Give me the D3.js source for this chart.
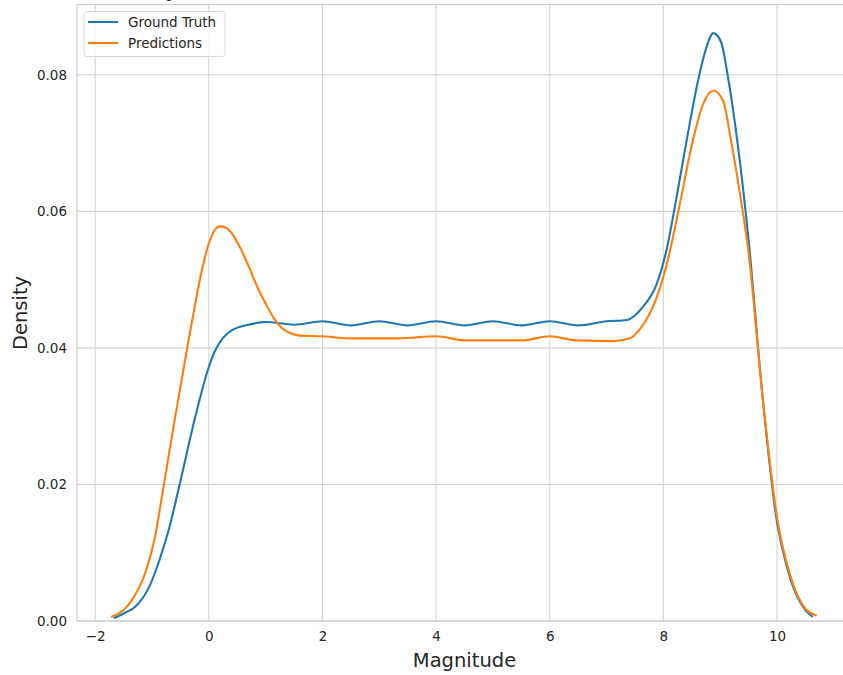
<!DOCTYPE html>
<html>
<head>
<meta charset="utf-8">
<script src="https://cdn.jsdelivr.net/npm/d3@7"></script>
<style>
  body { margin: 0; background: #fff; }
  svg { display: block; font-family: "DejaVu Sans", sans-serif; }
</style>
</head>
<body>
<svg id="chart" width="843" height="675"></svg>
<script>
// series (x = magnitude, y = density)
const gtX = [-1.67, -1.5, -1.28, -1.05, -0.87, -0.7, -0.5, -0.25, 0, 0.1, 0.2, 0.41, 0.7, 1.0, 1.5, 2.0, 2.5, 3.0, 3.5, 4.0, 4.5, 5.0, 5.5, 6.0, 6.5, 7.0, 7.36, 7.64, 7.88, 8.06, 8.22, 8.41, 8.62, 8.75, 8.88, 9.02, 9.12, 9.3, 9.5, 9.75, 10.0, 10.1, 10.25, 10.5, 10.63];
const gtY = [0.0004, 0.0011, 0.0022, 0.005, 0.0089, 0.0135, 0.0205, 0.0295, 0.0372, 0.0394, 0.0409, 0.0426, 0.0434, 0.0438, 0.0434, 0.0439, 0.0433, 0.0439, 0.0433, 0.0439, 0.0433, 0.0439, 0.0433, 0.0439, 0.0433, 0.0439, 0.0441, 0.046, 0.0493, 0.0545, 0.0615, 0.0704, 0.0795, 0.0838, 0.0861, 0.0847, 0.0805, 0.0704, 0.0558, 0.0325, 0.0145, 0.0104, 0.0058, 0.0016, 0.0006];

const predX = [-1.72, -1.5, -1.35, -1.1, -0.95, -0.8, -0.6, -0.38, -0.25, -0.12, 0, 0.1, 0.2, 0.3, 0.42, 0.55, 0.71, 0.85, 1.0, 1.15, 1.3, 1.45, 1.6, 2.0, 2.46, 2.93, 3.35, 4.0, 4.53, 5.0, 5.5, 6.0, 6.47, 7.12, 7.41, 7.59, 7.76, 8.0, 8.11, 8.3, 8.52, 8.7, 8.88, 9.05, 9.19, 9.35, 9.5, 9.75, 10.0, 10.25, 10.5, 10.7];
const predY = [0.0006, 0.0016, 0.0031, 0.0075, 0.0122, 0.0195, 0.0295, 0.040, 0.046, 0.0515, 0.0553, 0.0572, 0.0578, 0.0576, 0.0566, 0.0547, 0.0518, 0.049, 0.0465, 0.0443, 0.0428, 0.0421, 0.0418, 0.0417, 0.0414, 0.0414, 0.0414, 0.0417, 0.0411, 0.0411, 0.0411, 0.0417, 0.0411, 0.0410, 0.0414, 0.0428, 0.045, 0.0504, 0.054, 0.0615, 0.0704, 0.0757, 0.0777, 0.0762, 0.0704, 0.0625, 0.054, 0.0325, 0.0152, 0.0062, 0.0018, 0.0008];

const xTicks = [-2, 0, 2, 4, 6, 8, 10];
const yTicks = [0, 0.02, 0.04, 0.06, 0.08];
const seriesNames = ["Ground Truth", "Predictions"];
const colors = ["#1f77b4", "#ff7f0e"];

const svg = d3.select("#chart");
const plotLeft = 77, plotRight = 852, plotTop = 4.5, plotBottom = 621;

const x = d3.scaleLinear().domain([-2.32, 11.32]).range([plotLeft, plotRight]);
const y = d3.scaleLinear().domain([0, 0.0903]).range([plotBottom, plotTop]);

// title, mostly above the frame (only its descender shows)
svg.append("text")
  .attr("x", 177).attr("y", -3)
  .attr("text-anchor", "end")
  .attr("font-size", 18).attr("font-weight", "bold")
  .attr("fill", "#262626")
  .text("Density");

// grid
svg.append("g").selectAll("line").data(xTicks).join("line")
  .attr("x1", d => x(d)).attr("x2", d => x(d))
  .attr("y1", plotTop).attr("y2", plotBottom)
  .attr("stroke", "#d5d5d5").attr("stroke-width", 1.1);
svg.append("g").selectAll("line").data(yTicks).join("line")
  .attr("x1", plotLeft).attr("x2", plotRight)
  .attr("y1", d => y(d)).attr("y2", d => y(d))
  .attr("stroke", "#d5d5d5").attr("stroke-width", 1.1);

// frame
svg.append("rect")
  .attr("x", plotLeft).attr("y", plotTop)
  .attr("width", plotRight - plotLeft).attr("height", plotBottom - plotTop)
  .attr("fill", "none").attr("stroke", "#cccccc").attr("stroke-width", 1.2);

// axes
const xAxis = svg.append("g")
  .attr("transform", `translate(0,${plotBottom})`)
  .call(d3.axisBottom(x).tickValues(xTicks).tickSize(0).tickPadding(10)
    .tickFormat(d => d < 0 ? "\u2212" + Math.abs(d) : d));
const yAxis = svg.append("g")
  .attr("transform", `translate(${plotLeft},0)`)
  .call(d3.axisLeft(y).tickValues(yTicks).tickSize(0).tickPadding(10)
    .tickFormat(d3.format(".2f")));
[xAxis, yAxis].forEach(g => {
  g.select(".domain").remove();
  g.selectAll("text").attr("font-size", 13.5).attr("fill", "#262626")
    .attr("font-family", "DejaVu Sans, sans-serif");
});

svg.append("text")
  .attr("x", (plotLeft + plotRight) / 2).attr("y", 667)
  .attr("text-anchor", "middle").attr("font-size", 19.5).attr("fill", "#262626")
  .text("Magnitude");
svg.append("text")
  .attr("transform", "translate(27,313) rotate(-90)")
  .attr("text-anchor", "middle").attr("font-size", 19.5).attr("fill", "#262626")
  .text("Density");

// curves
const line = d3.line()
  .x(d => x(d[0])).y(d => y(d[1]))
  .curve(d3.curveMonotoneX);

const series = [d3.zip(gtX, gtY), d3.zip(predX, predY)];
svg.append("g").selectAll("path").data(series).join("path")
  .attr("d", line)
  .attr("fill", "none")
  .attr("stroke", (d, i) => colors[i])
  .attr("stroke-width", 2.1);

// legend
const lg = svg.append("g");
lg.append("rect")
  .attr("x", 84).attr("y", 11.5).attr("width", 141).attr("height", 45)
  .attr("rx", 3)
  .attr("fill", "#fff").attr("fill-opacity", 0.8)
  .attr("stroke", "#d9d9d9");
const items = lg.selectAll("g.item").data(seriesNames).join("g")
  .attr("class", "item")
  .attr("transform", (d, i) => `translate(0,${22 + i * 21})`);
items.append("line")
  .attr("x1", 88).attr("x2", 118)
  .attr("stroke", (d, i) => colors[i]).attr("stroke-width", 2.1);
items.append("text")
  .attr("x", 128).attr("dy", "0.35em")
  .attr("font-size", 13.5).attr("fill", "#262626")
  .text(d => d);
</script>
</body>
</html>
